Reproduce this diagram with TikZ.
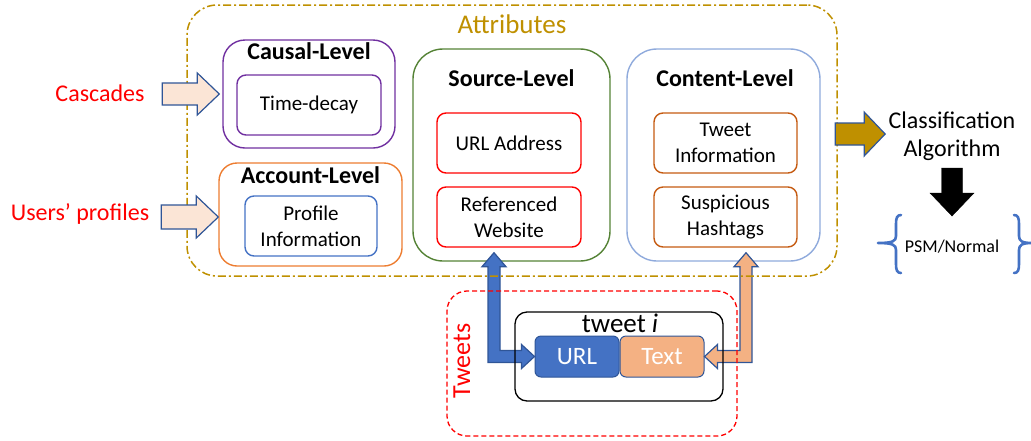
\documentclass[tikz,border=0pt]{standalone}
\usepackage{fontspec}
\setmainfont{Carlito}
\usetikzlibrary{calc}
\definecolor{cpurple}{HTML}{7030A0}
\definecolor{corange}{HTML}{ED7D31}
\definecolor{cblue}{HTML}{4472C4}
\definecolor{cgreen}{HTML}{548235}
\definecolor{cred}{HTML}{FF0000}
\definecolor{clblue}{HTML}{8FAADC}
\definecolor{cbrown}{HTML}{C55A11}
\definecolor{cgold}{HTML}{BF9000}
\definecolor{cborder}{HTML}{2F5597}
\definecolor{cpeach}{HTML}{FBE5D6}
\definecolor{cltorange}{HTML}{F4B183}
\tikzset{
  box/.style={draw, rectangle, line width=1.4pt, inner sep=0pt, align=center},
  lvl/.style={box, rounded corners=22pt},
  inbox/.style={box, rounded corners=9pt, minimum width=144pt, minimum height=60pt, font=\fontsize{21}{26}\selectfont},
  ttl/.style={anchor=base, font=\bfseries\fontsize{24}{28}\selectfont},
  lbl/.style={anchor=base, text=cred, font=\fontsize{24}{28}\selectfont},
  blockarrow/.style={line width=1.2pt, draw=cborder, line join=miter},
}
\begin{document}
\begin{tikzpicture}[x=1pt,y=-1pt]
\useasboundingbox (0,0) rectangle (1031,440);

% level boxes
\node[lvl, draw=cpurple, minimum width=172pt, minimum height=108pt] (causal) at (309,94) {};
\node[lvl, draw=corange, rounded corners=18pt, minimum width=183pt, minimum height=103pt] (account) at (310.5,214.5) {};
\node[lvl, draw=cgreen, rounded corners=30pt, minimum width=197pt, minimum height=212pt] (source) at (511.5,155) {};
\node[lvl, draw=clblue, rounded corners=30pt, minimum width=193pt, minimum height=212pt] (content) at (723.5,155) {};

\node[ttl] (causalt) at (309,59) {Causal-Level};
\node[ttl] (accountt) at (310.5,183) {Account-Level};
\node[ttl] (sourcet) at (511.5,86) {Source-Level};
\node[ttl] (contentt) at (725,86) {Content-Level};

\node[inbox, draw=cpurple] (decay) at (309,105) {Time-decay};
\node[inbox, draw=cblue, minimum width=132pt] (profile) at (311,226) {Profile\\Information};
\node[inbox, draw=cred] (urladdr) at (509,143) {URL Address};
\node[inbox, draw=cred] (refweb) at (509,217) {Referenced\\Website};
\node[inbox, draw=cbrown, minimum width=143pt] (tweetinfo) at (725.5,143) {Tweet\\Information};
\node[inbox, draw=cbrown, minimum width=143pt] (hashtags) at (725.5,217) {Suspicious\\Hashtags};

% tweet i
\node[box, draw=cborder, fill=cblue, rounded corners=6pt, line width=1pt, minimum width=84pt, minimum height=41pt, text=white, font=\fontsize{25}{28}\selectfont] (url) at (577,356.5) {URL};
\node[box, draw=cborder, fill=cltorange, rounded corners=6pt, line width=1pt, minimum width=84pt, minimum height=41pt, text=white, font=\fontsize{25}{28}\selectfont] (txt) at (662,356.5) {Text};

% elbow arrows
\coordinate (stip) at ($(source.south)+(-17.5,-9)$);
\coordinate (ctip) at ($(content.south)+(22.5,-9)$);
\draw[blockarrow, fill=cblue] (stip) -- ++(12,14) -- ++(-6,0) |- ($(url.west)+(-13,-6)$) -- ++(0,-6) -- (url.west) -- ++(-13,12) -- ++(0,-6) -| ($(stip)+(-6,14)$) -- ++(-6,0) -- cycle;
\draw[blockarrow, fill=cltorange] (ctip) -- ++(12,14) -- ++(-6,0) |- ($(txt.east)+(13,6)$) -- ++(0,6) -- (txt.east) -- ++(13,-12) -- ++(0,6) -| ($(ctip)+(-6,14)$) -- ++(-6,0) -- cycle;

% outer groups
\node[box, draw=cgold, line width=1.5pt, rounded corners=30pt, dash pattern=on 8pt off 3pt on 2pt off 3pt, minimum width=650pt, minimum height=271pt] (attr) at (512,140.5) {};
\node[anchor=base, text=cgold, font=\fontsize{27}{30}\selectfont] (attrt) at (512,33) {Attributes};
\node[box, draw=cred, line width=1.3pt, rounded corners=20pt, dash pattern=on 5pt off 3pt, minimum width=290pt, minimum height=145pt] (tweets) at (592,363.5) {};
\node[anchor=base, rotate=90, text=cred, font=\fontsize{26}{30}\selectfont] (tweetst) at (470,361) {Tweets};
\node[box, draw=black, line width=1.3pt, rounded corners=12pt, minimum width=208pt, minimum height=89pt] (tweetbox) at (619,356.5) {};
\node[anchor=base, font=\fontsize{27}{30}\selectfont] (tweetit) at (620,332) {tweet \textit{i}};

% inputs
\node[lbl] (cascades) at (100,101) {Cascades};
\node[lbl] (users) at (80,220) {Users’ profiles};
\coordinate (casctip) at ($(causal.west)+(-3,0)$);
\coordinate (usertip) at ($(account.west)+(0,2.5)$);
\draw[blockarrow, fill=cpeach] (casctip) -- ++(-22,-21) -- ++(0,10) -- ++(-35,0) -- ++(0,22) -- ++(35,0) -- ++(0,10) -- cycle;
\draw[blockarrow, fill=cpeach] (usertip) -- ++(-22,-21) -- ++(0,9) -- ++(-35,0) -- ++(0,24) -- ++(35,0) -- ++(0,9) -- cycle;

% classification
\node[align=center, font=\fontsize{24}{28}\selectfont] (clf) at (952,136) {Classification\\Algorithm};
\coordinate (goldtip) at ($(clf.west)+(0,-2)$);
\draw[blockarrow, fill=cgold] (goldtip) -- ++(-21,-22) -- ++(0,11) -- ++(-29,0) -- ++(0,22) -- ++(29,0) -- ++(0,11) -- cycle;
\node[anchor=base, font=\fontsize{18}{22}\selectfont] (psm) at (952,252) {PSM/Normal};
\coordinate (blacktip) at (952,216);
\draw[fill=black] (blacktip) -- ++(-22,-23) -- ++(11.5,0) -- ++(0,-25) -- ++(21,0) -- ++(0,25) -- ++(11.5,0) -- cycle;

% braces
\draw[cblue, line width=2.6pt, line cap=round, line join=round]
  (901,215) .. controls (897,215) and (896,218) .. (896,224) -- (896,236)
  .. controls (896,241) and (893,243) .. (878,243)
  .. controls (893,243) and (896,245) .. (896,250) -- (896,264)
  .. controls (896,270) and (897,273) .. (901,273);
\draw[cblue, line width=2.6pt, line cap=round, line join=round]
  (1014,215) .. controls (1018,215) and (1019,218) .. (1019,224) -- (1019,236)
  .. controls (1019,241) and (1022,243) .. (1032,243)
  .. controls (1022,243) and (1019,245) .. (1019,250) -- (1019,264)
  .. controls (1019,270) and (1018,273) .. (1014,273);
\end{tikzpicture}
\end{document}
